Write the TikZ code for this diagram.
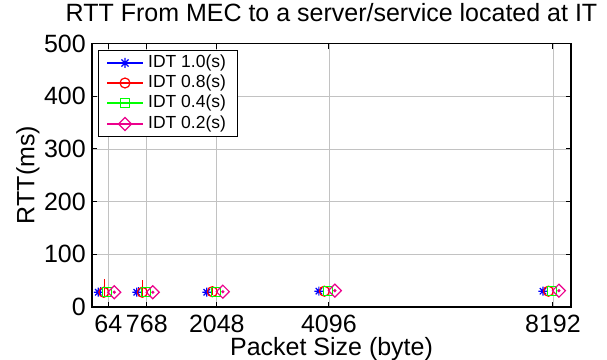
\documentclass[tikz,border=0pt]{standalone}
\usepackage{fontspec}
\setmainfont{Liberation Sans}
\usetikzlibrary{plotmarks}

% eight-armed star marker (plus and cross)
\pgfdeclareplotmark{mstar}{%
  \pgfpathmoveto{\pgfqpoint{-\pgfplotmarksize}{0pt}}\pgfpathlineto{\pgfqpoint{\pgfplotmarksize}{0pt}}%
  \pgfpathmoveto{\pgfqpoint{0pt}{-\pgfplotmarksize}}\pgfpathlineto{\pgfqpoint{0pt}{\pgfplotmarksize}}%
  \pgfpathmoveto{\pgfqpoint{-.707\pgfplotmarksize}{-.707\pgfplotmarksize}}\pgfpathlineto{\pgfqpoint{.707\pgfplotmarksize}{.707\pgfplotmarksize}}%
  \pgfpathmoveto{\pgfqpoint{-.707\pgfplotmarksize}{.707\pgfplotmarksize}}\pgfpathlineto{\pgfqpoint{.707\pgfplotmarksize}{-.707\pgfplotmarksize}}%
  \pgfusepathqstroke}
% symmetric diamond marker
\pgfdeclareplotmark{mdiamond}{%
  \pgfpathmoveto{\pgfqpoint{0pt}{\pgfplotmarksize}}%
  \pgfpathlineto{\pgfqpoint{\pgfplotmarksize}{0pt}}%
  \pgfpathlineto{\pgfqpoint{0pt}{-\pgfplotmarksize}}%
  \pgfpathlineto{\pgfqpoint{-\pgfplotmarksize}{0pt}}%
  \pgfpathclose\pgfusepathqstroke}

\tikzset{
  gridline/.style={draw=black!24, line width=0.7pt},
  axisline/.style={draw=black, line width=1.3pt},
  tickmark/.style={draw=black, line width=1pt},
  ticklabel/.style={font=\fontsize{25}{28}\selectfont, inner sep=0pt},
  axislabel/.style={font=\fontsize{25}{28}\selectfont, inner sep=0pt},
  legtext/.style={font=\fontsize{17.5}{20}\selectfont, inner sep=0pt, anchor=west},
  legendbox/.style={draw=black, fill=white, line width=1pt, minimum width=139pt, minimum height=86pt, inner sep=0pt},
  sblue/.style={draw=blue, line width=1.2pt},
  sred/.style={draw=red, line width=1.2pt},
  sgreen/.style={draw=green, line width=1.2pt},
  smag/.style={draw=magenta, line width=1.2pt},
}

\begin{document}
\begin{tikzpicture}[x=1pt, y=1pt]
\useasboundingbox (0,0) rectangle (607,359);
\fill[white] (0,0) rectangle (607,359);

\node[axislabel, anchor=base] (title) at (331.5,337) {RTT From MEC to a server/service located at IT};
\node[axislabel, anchor=base] (xlabel) at (331.5,4) {Packet Size (byte)};
\node[axislabel, rotate=90] (ylabel) at (28,184) {RTT(ms)};

\begin{scope}[shift={(104.8,52)}, x=0.05471pt, y=0.527pt]
  % grid
  \foreach \v in {64,768,2048,4096,8192}
    \draw[gridline] (\v,0) -- (\v,500);
  \foreach \r in {100,200,300,400}
    \draw[gridline] (-234,\r) -- (8521,\r);
  % ticks
  \foreach \v in {64,768,2048,4096,8192}{
    \draw[tickmark] (\v,0) -- ++(0,5pt);
    \draw[tickmark] (\v,500) -- ++(0,-5pt);
    \node[ticklabel, anchor=base] (xt\v) at ([yshift=-25pt]\v,0) {\v};
  }
  \foreach \r in {0,100,200,300,400,500}{
    \draw[tickmark] (-234,\r) -- ++(5pt,0);
    \draw[tickmark] (8521,\r) -- ++(-5pt,0);
    \node[ticklabel, anchor=east] (yt\r) at ([xshift=-6pt]-234,\r) {\r};
  }
  % frame
  \draw[axisline] (-234,0) rectangle (8521,500);

  % error bars
  \draw[sblue] ([xshift=-8pt]64,20) -- ([xshift=-8pt]64,38);
  \draw[sblue] ([xshift=-8pt]768,20) -- ([xshift=-8pt]768,38);
  \draw[sred] ([xshift=-4pt]64,19) -- ([xshift=-4pt]64,53);
  \draw[sred] ([xshift=-4pt]768,19) -- ([xshift=-4pt]768,52);
  \draw[sred] ([xshift=-4pt]2048,22) -- ([xshift=-4pt]2048,38);
  % data
  \draw[sblue] plot[only marks, mark=mstar, mark size=4.5pt] coordinates
    {([xshift=-10pt]64,28) ([xshift=-10pt]768,28) ([xshift=-10pt]2048,28) ([xshift=-10pt]4096,30) ([xshift=-10pt]8192,30)};
  \draw[sred] plot[only marks, mark=o, mark size=5pt] coordinates
    {([xshift=-4.5pt]64,28) ([xshift=-4.5pt]768,28) ([xshift=-4.5pt]2048,29) ([xshift=-4.5pt]4096,30) ([xshift=-4.5pt]8192,30)};
  \draw[sgreen] plot[only marks, mark=square, mark size=4.5pt] coordinates
    {([xshift=-1pt]64,28) ([xshift=-1pt]768,28) ([xshift=-1pt]2048,29) ([xshift=-1pt]4096,30) ([xshift=-1pt]8192,30)};
  \draw[smag] plot[only marks, mark=mdiamond, mark size=6.5pt] coordinates
    {([xshift=6pt]64,28) ([xshift=6pt]768,28) ([xshift=6pt]2048,29) ([xshift=6pt]4096,31) ([xshift=6pt]8192,31)};
  \foreach \v/\r in {64/28,768/28,2048/29,4096/31,8192/31}
    \fill[magenta] ([xshift=6pt]\v,\r) circle (1.8pt);
\end{scope}

% legend
\node[legendbox, anchor=north west] (legend) at (98,309) {};
\draw[sblue] (107,296) -- (143,296);
\draw[sblue] plot[only marks, mark=mstar, mark size=5pt] coordinates {(125,296)};
\node[legtext] (l1) at (148,296) {IDT 1.0(s)};
\draw[sred] (107,276) -- (143,276);
\draw[sred] plot[only marks, mark=o, mark size=5pt] coordinates {(125,276)};
\node[legtext] (l2) at (148,276) {IDT 0.8(s)};
\draw[sgreen] (107,256) -- (143,256);
\draw[sgreen] plot[only marks, mark=square, mark size=4.5pt] coordinates {(125,256)};
\node[legtext] (l3) at (148,256) {IDT 0.4(s)};
\draw[smag] (107,235) -- (143,235);
\draw[smag] plot[only marks, mark=mdiamond, mark size=6.5pt] coordinates {(125,235)};
\node[legtext] (l4) at (148,235) {IDT 0.2(s)};
\end{tikzpicture}
\end{document}
